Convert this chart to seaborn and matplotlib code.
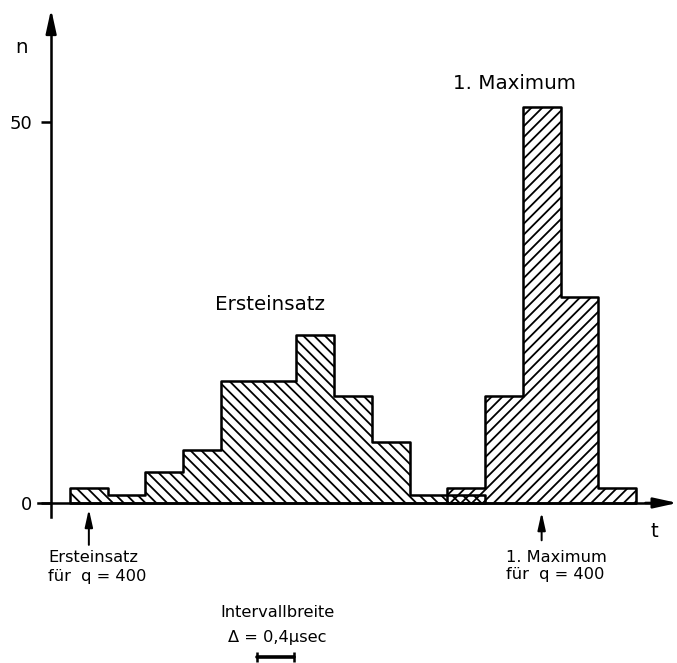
import numpy as np
import pandas as pd
import matplotlib
matplotlib.use("Agg")
import matplotlib.pyplot as plt
import seaborn as sns

# Histogram data: counts n per time interval (interval width 0.4 µs)
bin_width = 0.4
t_start = 0.2
ersteinsatz_counts = [2, 1, 4, 7, 16, 16, 22, 14, 8, 1, 1]
maximum_counts = [2, 14, 52, 27, 2]
maximum_first_bin = 10

# Arrow markers for q = 400 (bin centres)
ersteinsatz_q400 = 0.4
maximum_q400 = 5.2

y_ticks = [0, 50]
y_ticklabels = ["0", "50"]


def make_frame(counts, first_bin):
    k = np.arange(first_bin, first_bin + len(counts))
    centres = t_start + bin_width * (k + 0.5)
    edges = t_start + bin_width * np.arange(first_bin, first_bin + len(counts) + 1)
    return pd.DataFrame({"t": centres, "n": counts}), [float(e) for e in edges]


df_e, edges_e = make_frame(ersteinsatz_counts, 0)
df_m, edges_m = make_frame(maximum_counts, maximum_first_bin)

sns.set_style("white")
plt.rcParams["font.family"] = ["DejaVu Sans"]
plt.rcParams["text.color"] = "black"
plt.rcParams["ytick.color"] = "black"
plt.rcParams["ytick.labelcolor"] = "black"
plt.rcParams["hatch.linewidth"] = 1.0
plt.rcParams["hatch.color"] = "black"

DPI = 130
fig = plt.figure(figsize=(677 / DPI, 663 / DPI), dpi=DPI)
ax = fig.add_axes([0, 0, 1, 1])
ax.set_facecolor("none")

common = dict(element="step", fill=True, color="black", facecolor="none",
              edgecolor="black", linewidth=1.4, ax=ax)
sns.histplot(data=df_e, x="t", weights="n", bins=edges_e, hatch="\\\\\\\\", **common)
sns.histplot(data=df_m, x="t", weights="n", bins=edges_m, hatch="////", **common)

ax.set_xlim(-0.542, 6.635)
ax.set_ylim(-21.0, 66.0)
ax.set_xlabel("")
ax.set_ylabel("")
ax.grid(False)

# Axes as crossing lines with arrowheads
for side in ("top", "right"):
    ax.spines[side].set_visible(False)
ax.spines["left"].set_position(("data", 0))
ax.spines["bottom"].set_position(("data", 0))
ax.spines["left"].set_bounds(-1.84, 62.0)
ax.spines["bottom"].set_bounds(-0.14, 6.4)
for side in ("left", "bottom"):
    ax.spines[side].set_linewidth(1.4)
    ax.spines[side].set_color("black")

head = dict(arrowstyle="-|>,head_length=1.0,head_width=0.22", color="black",
            lw=1.4, mutation_scale=11, shrinkA=0, shrinkB=0)
ax.annotate("", xy=(6.64, 0), xytext=(6.3, 0), arrowprops=head)
ax.annotate("", xy=(0, 64.8), xytext=(0, 61.5), arrowprops=head)

ax.set_xticks([])
ax.set_yticks(y_ticks)
ax.set_yticklabels(y_ticklabels)
ax.tick_params(axis="y", direction="out", length=5.5, width=1.4, color="black",
               labelcolor="black", labelsize=10, pad=5, left=True)

ax.text(-0.31, 59.8, "n", fontsize=11, ha="center", va="center")
ax.text(6.40, -3.8, "t", fontsize=11, ha="center", va="center")

# Group labels
ax.text(2.32, 26.0, "Ersteinsatz", fontsize=11, ha="center", va="center")
ax.text(4.91, 55.1, "1. Maximum", fontsize=11, ha="center", va="center")

# Markers for q = 400
small_head = dict(arrowstyle="-|>,head_length=0.9,head_width=0.2", color="black",
                  lw=1.1, mutation_scale=9, shrinkA=0, shrinkB=0)
ax.annotate("", xy=(ersteinsatz_q400, -0.8), xytext=(ersteinsatz_q400, -5.5),
            arrowprops=small_head)
ax.annotate("", xy=(maximum_q400, -1.2), xytext=(maximum_q400, -4.9),
            arrowprops=small_head)
ax.text(-0.03, -7.2, "Ersteinsatz", fontsize=9, ha="left", va="center")
ax.text(-0.03, -9.7, "für  q = 400", fontsize=9, ha="left", va="center")
ax.text(4.82, -7.1, "1. Maximum", fontsize=9, ha="left", va="center")
ax.text(4.82, -9.45, "für  q = 400", fontsize=9, ha="left", va="center")

# Interval width legend
ax.text(2.40, -14.4, "Intervallbreite", fontsize=9, ha="center", va="center")
ax.text(2.40, -17.6, "Δ = 0,4µsec", fontsize=9, ha="center", va="center")
bar_x0 = 2.18
ax.plot([bar_x0, bar_x0 + bin_width], [-20.2, -20.2], color="black", lw=2.0,
        marker="|", markersize=5, markeredgewidth=1.4, clip_on=False)

fig.savefig("out.png", dpi=DPI)
